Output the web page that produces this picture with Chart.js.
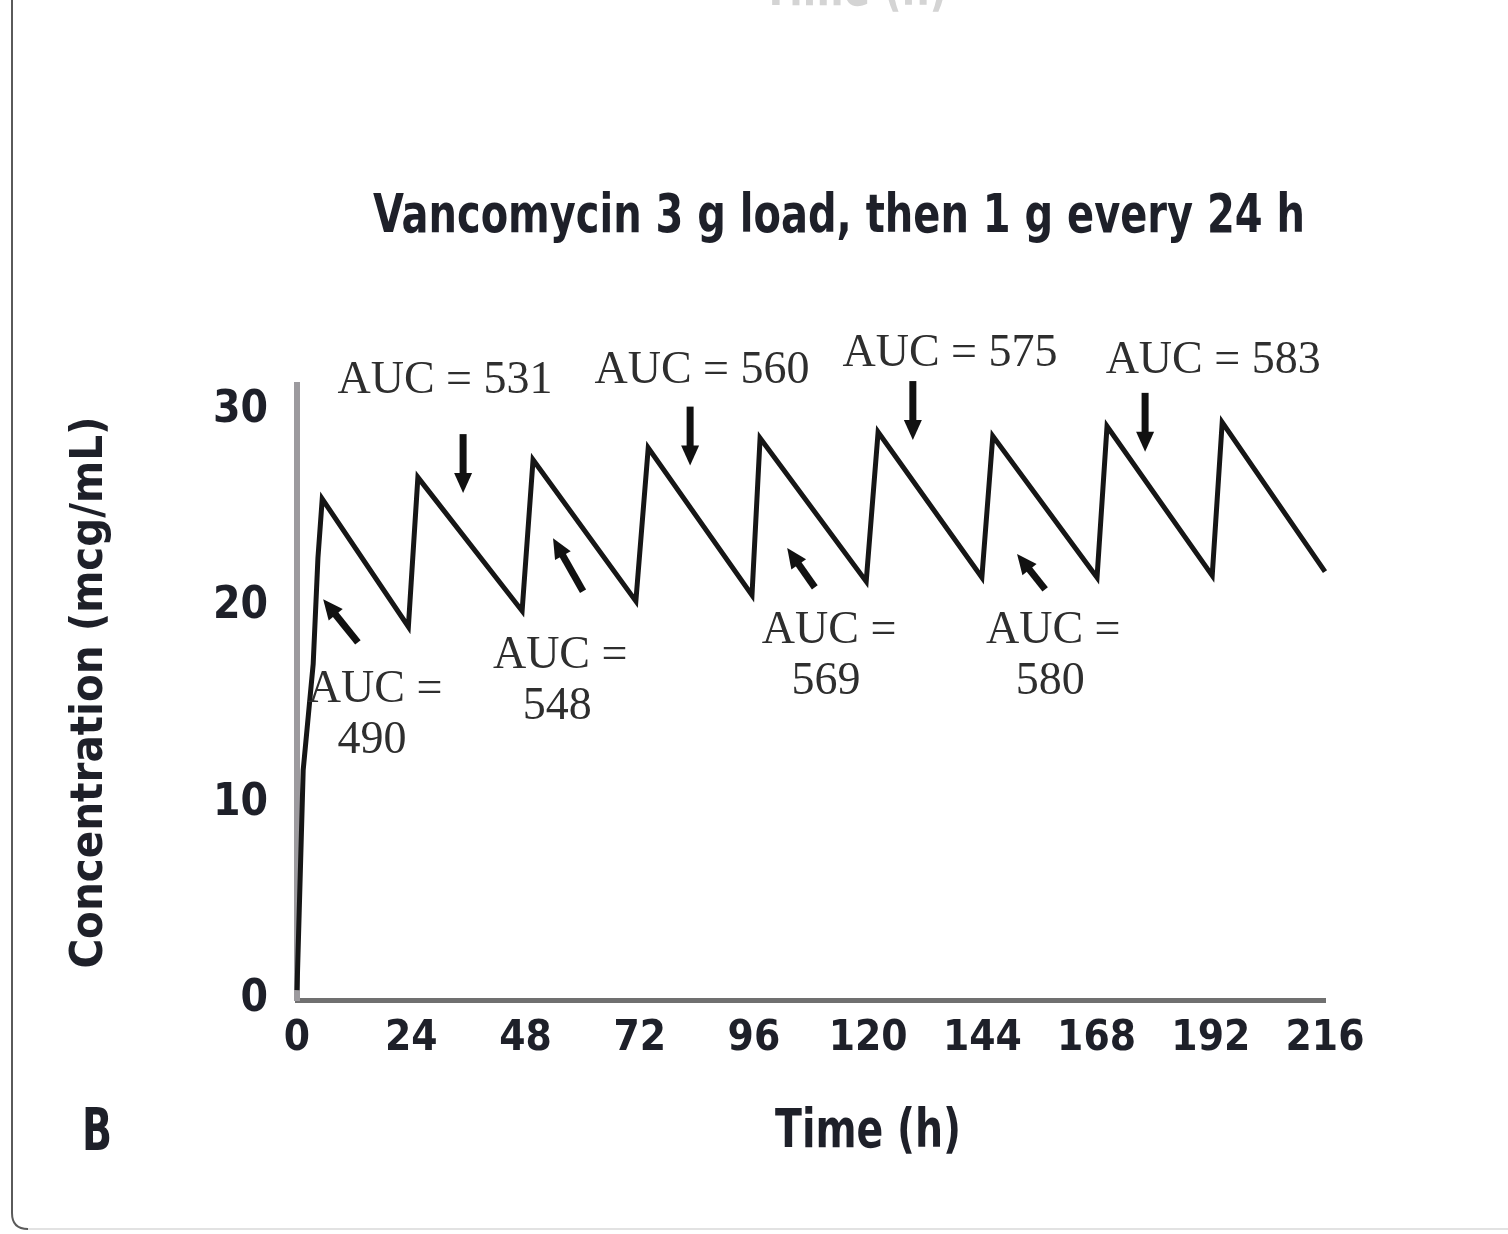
<!DOCTYPE html>
<html>
<head>
<meta charset="utf-8">
<title>Vancomycin 3 g load, then 1 g every 24 h</title>
<script src="https://cdn.jsdelivr.net/npm/chart.js"></script>
<style>
  html, body { margin: 0; padding: 0; background: #ffffff; }
  #wrap { width: 1508px; height: 1234px; position: relative; }
</style>
</head>
<body>
<div id="wrap"><canvas id="vancoChart" width="1508" height="1234"></canvas></div>
<script>
// Values
var timeH = [0, 1.3, 3.4, 4.4, 5.3, 23.4, 25.4, 47.3, 49.6, 71.2, 73.8, 95.6, 97.3,
  119.6, 122.1, 143.9, 146.2, 168.1, 170.2, 192.3, 194.4, 216];
var concMcgMl = [0.5, 11.7, 17.1, 22.5, 25.5, 19.0, 26.6, 19.8, 27.5, 20.3, 28.1, 20.6, 28.6,
  21.3, 28.9, 21.5, 28.7, 21.5, 29.2, 21.6, 29.4, 21.8];

var xTicks = [0, 24, 48, 72, 96, 120, 144, 168, 192, 216];
var yTicks = [0, 10, 20, 30];

var aucValues = [490, 531, 548, 560, 569, 575, 580, 583];

// where each AUC note sits, in data units (hours, mcg/mL)
var aucNotes = [
  { text: [16.4, 15.8], wrap: true,  tail: [12.8, 18.2], head: [5.5, 20.4] },
  { text: [31.1, 31.5], wrap: false, tail: [34.9, 28.8], head: [34.9, 25.8] },
  { text: [55.3, 17.5], wrap: true,  tail: [60.1, 20.8], head: [53.8, 23.5] },
  { text: [85.1, 32.0], wrap: false, tail: [82.6, 30.2], head: [82.6, 27.2] },
  { text: [111.8, 18.8], wrap: true, tail: [108.8, 21.0], head: [103.0, 23.0] },
  { text: [137.2, 32.9], wrap: false, tail: [129.4, 31.5], head: [129.4, 28.5] },
  { text: [158.9, 18.8], wrap: true, tail: [157.2, 20.9], head: [151.3, 22.7] },
  { text: [192.5, 32.5], wrap: false, tail: [178.2, 30.9], head: [178.2, 27.9] }
];

var condensed = '"Liberation Sans Narrow", "DejaVu Sans Condensed", "Roboto", sans-serif';
var serif = '"Liberation Serif", "DejaVu Serif", serif';
var inkColor = '#1e2029';


function drawArrow(ctx, x1, y1, x2, y2) {
  var ang = Math.atan2(y2 - y1, x2 - x1);
  var headLen = 20;
  var headW = 9;
  var bx = x2 - headLen * Math.cos(ang);
  var by = y2 - headLen * Math.sin(ang);
  ctx.beginPath();
  ctx.moveTo(x1, y1);
  ctx.lineTo(bx + 2 * Math.cos(ang), by + 2 * Math.sin(ang));
  ctx.stroke();
  ctx.beginPath();
  ctx.moveTo(x2, y2);
  ctx.lineTo(bx + headW * Math.sin(ang), by - headW * Math.cos(ang));
  ctx.lineTo(bx - headW * Math.sin(ang), by + headW * Math.cos(ang));
  ctx.closePath();
  ctx.fill();
}

// squeeze text sideways so it spans the given width (the fallback font is wider)
function fillTextWidth(ctx, text, cx, cy, width) {
  var w = ctx.measureText(text).width;
  var k = Math.min(1, width / w);
  ctx.save();
  ctx.translate(cx, cy);
  ctx.scale(k, 1);
  ctx.fillText(text, 0, 0);
  ctx.restore();
}


// panel frame, title and the "B" tag
var framePlugin = {
  id: 'panelFrame',
  beforeDraw: function(chart) {
    var ctx = chart.ctx;
    ctx.save();
    ctx.fillStyle = '#ffffff';
    ctx.fillRect(0, 0, chart.width, chart.height);

    ctx.strokeStyle = '#e2e2e2';
    ctx.lineWidth = 2;
    ctx.beginPath();
    ctx.moveTo(28, 1229);
    ctx.lineTo(chart.width, 1229);
    ctx.stroke();

    ctx.strokeStyle = '#5a5a5a';
    ctx.beginPath();
    ctx.moveTo(12, 0);
    ctx.lineTo(12, 1213);
    ctx.quadraticCurveTo(12, 1229, 28, 1229);
    ctx.stroke();

    // bottom of the panel above, cut off by the crop
    ctx.fillStyle = '#d4d4d4';
    ctx.font = 'bold 54px ' + condensed;
    ctx.textAlign = 'center';
    ctx.textBaseline = 'alphabetic';
    fillTextWidth(ctx, 'Time (h)', 855, 5, 185);
    ctx.restore();
  },
  afterDraw: function(chart) {
    var ctx = chart.ctx;
    ctx.save();
    ctx.fillStyle = inkColor;
    ctx.textAlign = 'center';
    ctx.textBaseline = 'middle';
    ctx.font = 'bold 54px ' + condensed;
    fillTextWidth(ctx, 'Vancomycin 3 g load, then 1 g every 24 h', 839, 218, 932);
    ctx.font = 'bold 54px ' + condensed;
    fillTextWidth(ctx, 'Time (h)', 868, 1133, 186);
    ctx.font = 'bold 58px ' + condensed;
    fillTextWidth(ctx, 'B', 97, 1135, 30);
    ctx.restore();
  }
};


var aucPlugin = {
  id: 'aucNotes',
  afterDatasetsDraw: function(chart) {
    var ctx = chart.ctx;
    var xs = chart.scales.x;
    var ys = chart.scales.y;
    ctx.save();
    ctx.fillStyle = '#2e2e2e';
    ctx.font = '46px ' + serif;
    ctx.textAlign = 'center';
    ctx.textBaseline = 'middle';
    for (let i = 0; i < aucValues.length; i++) {
      let n = aucNotes[i];
      let tx = xs.getPixelForValue(n.text[0]);
      let ty = ys.getPixelForValue(n.text[1]);
      if (n.wrap) {
        ctx.fillText('AUC =', tx, ty);
        ctx.fillText(String(aucValues[i]), tx - 3, ty + 51);
      } else {
        ctx.fillText('AUC = ' + aucValues[i], tx, ty);
      }
    }
    ctx.fillStyle = '#111111';
    ctx.strokeStyle = '#111111';
    ctx.lineWidth = 7;
    ctx.lineCap = 'butt';
    for (let i = 0; i < aucNotes.length; i++) {
      let n = aucNotes[i];
      drawArrow(ctx,
        xs.getPixelForValue(n.tail[0]), ys.getPixelForValue(n.tail[1]),
        xs.getPixelForValue(n.head[0]), ys.getPixelForValue(n.head[1]));
    }
    ctx.restore();
  }
};


var points = timeH.map(function(t, i) {
  return { x: t, y: concMcgMl[i] };
});

new Chart(document.getElementById('vancoChart'), {
  type: 'line',
  data: {
    datasets: [{
      label: 'Vancomycin concentration',
      data: points,
      borderColor: '#161616',
      borderWidth: 5,
      borderJoinStyle: 'miter',
      pointRadius: 0,
      tension: 0,
      clip: false
    }]
  },
  options: {
    responsive: false,
    animation: false,
    layout: {
      padding: { left: 0, right: 183, top: 385, bottom: 0 }
    },
    scales: {
      x: {
        type: 'linear',
        min: 0,
        max: 216,
        afterFit: function(scale) { scale.height = 234; },
        afterBuildTicks: function(scale) {
          scale.ticks = xTicks.map(function(v) { return { value: v }; });
        },
        grid: { display: false, drawTicks: false },
        border: { display: true, color: '#707070', width: 5 },
        ticks: {
          padding: 14,
          maxRotation: 0,
          autoSkip: false,
          color: inkColor,
          font: { family: condensed, size: 42, weight: 'bold' }
        }
      },
      y: {
        min: 0,
        max: 31.3,
        afterFit: function(scale) { scale.width = 297; },
        afterBuildTicks: function(scale) {
          scale.ticks = yTicks.map(function(v) { return { value: v }; });
        },
        grid: { display: false, drawTicks: false },
        border: { display: true, color: '#9c9a9e', width: 6 },
        ticks: {
          padding: 29,
          color: inkColor,
          font: { family: condensed, size: 44, weight: 'bold' }
        },
        title: {
          display: true,
          text: 'Concentration (mcg/mL)',
          color: inkColor,
          padding: { top: 63, bottom: 0 },
          font: { family: condensed, size: 45, weight: 'bold' }
        }
      }
    },
    plugins: {
      legend: { display: false },
      tooltip: { enabled: false },
      title: { display: false }
    }
  },
  plugins: [framePlugin, aucPlugin]
});
</script>
</body>
</html>
